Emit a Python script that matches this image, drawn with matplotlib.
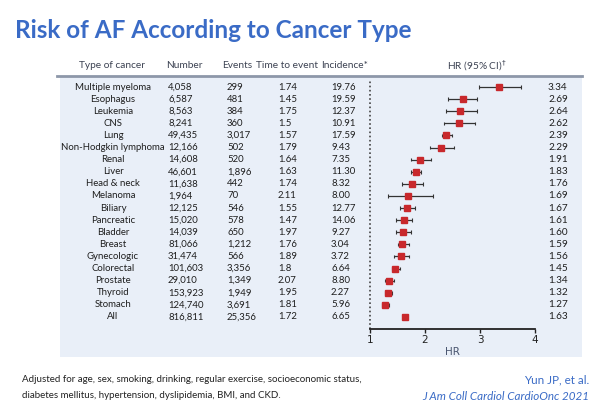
#!/usr/bin/env python

import numpy as np
import matplotlib.pyplot as plt
import matplotlib.transforms as mtrans
from matplotlib.patches import Rectangle

# table data
cancers = ['Multiple myeloma', 'Esophagus', 'Leukemia', 'CNS', 'Lung',
           'Non-Hodgkin lymphoma', 'Renal', 'Liver', 'Head & neck', 'Melanoma',
           'Biliary', 'Pancreatic', 'Bladder', 'Breast', 'Gynecologic',
           'Colorectal', 'Prostate', 'Thyroid', 'Stomach', 'All']
number = ['4,058', '6,587', '8,563', '8,241', '49,435', '12,166', '14,608',
          '46,601', '11,638', '1,964', '12,125', '15,020', '14,039', '81,066',
          '31,474', '101,603', '29,010', '153,923', '124,740', '816,811']
events = ['299', '481', '384', '360', '3,017', '502', '520', '1,896', '442',
          '70', '546', '578', '650', '1,212', '566', '3,356', '1,349', '1,949',
          '3,691', '25,356']
time_to_event = ['1.74', '1.45', '1.75', '1.5', '1.57', '1.79', '1.64', '1.63',
                 '1.74', '2.11', '1.55', '1.47', '1.97', '1.76', '1.89', '1.8',
                 '2.07', '1.95', '1.81', '1.72']
incidence = ['19.76', '19.59', '12.37', '10.91', '17.59', '9.43', '7.35',
             '11.30', '8.32', '8.00', '12.77', '14.06', '9.27', '3.04', '3.72',
             '6.64', '8.80', '2.27', '5.96', '6.65']

# hazard ratios and 95% CI
hr = np.array([3.34, 2.69, 2.64, 2.62, 2.39, 2.29, 1.91, 1.83, 1.76, 1.69,
               1.67, 1.61, 1.60, 1.59, 1.56, 1.45, 1.34, 1.32, 1.27, 1.63])
ci_lo = np.array([2.98, 2.41, 2.38, 2.35, 2.31, 2.09, 1.75, 1.75, 1.59, 1.32,
                  1.54, 1.48, 1.48, 1.51, 1.44, 1.40, 1.27, 1.27, 1.21, 1.61])
ci_hi = np.array([3.75, 2.95, 2.94, 2.91, 2.49, 2.52, 2.10, 1.93, 1.96, 2.14,
                  1.82, 1.76, 1.75, 1.70, 1.71, 1.54, 1.43, 1.40, 1.34, 1.65])

W, H = 600, 405
blue = '#3a6bc6'
head_col = '#3c4252'
txt_col = '#1e1e1e'
tfont = 'Lato'

fig = plt.figure(figsize=(6, 4.05), dpi=100)
fig.patch.set_facecolor('white')

def fx(px):
    return px / W

def fy(py):
    return 1 - py / H

# light blue panel
fig.patches.append(Rectangle((fx(60), fy(357)), fx(582) - fx(60), fy(76) - fy(357),
                             transform=fig.transFigure, facecolor='#e9eff8',
                             edgecolor='none', zorder=-10))
fig.add_artist(plt.Line2D([fx(57), fx(582)], [fy(76), fy(76)],
                          transform=fig.transFigure, color='#8d97a9', lw=2, zorder=-5))

# forest plot axes: rows 0..19, row 0 at y=87 px, row 19 at y=317 px
n = len(cancers)
step = (317 - 87) / (n - 1)
top_px, bot_px = 76, 329
ax = fig.add_axes([fx(370), fy(bot_px), fx(535) - fx(370), fy(top_px) - fy(bot_px)])
ax.set_facecolor('none')
ax.set_zorder(2)
ax.set_xlim(1, 4)
ax.set_ylim(n - 1 + (bot_px - 317) / step, -(87 - top_px) / step)
rows = np.arange(n)

ax.hlines(rows, ci_lo, ci_hi, color='#333333', lw=0.9, zorder=2)
ax.vlines(ci_lo, rows - 0.15, rows + 0.15, color='#333333', lw=0.8, zorder=2)
ax.vlines(ci_hi, rows - 0.15, rows + 0.15, color='#333333', lw=0.8, zorder=2)
ax.plot(hr, rows, 's', color='#c8282c', ms=4, zorder=3)
ax.axvline(1, ymin=0, ymax=0.98, color='#444444', ls=(0, (1, 1.5)), lw=1.2, clip_on=False)

for s in ['top', 'right', 'left']:
    ax.spines[s].set_visible(False)
ax.spines['bottom'].set_linewidth(1.3)
ax.spines['bottom'].set_color('#222222')
ax.set_yticks([])
ax.set_xticks([1, 2, 3, 4])
ax.tick_params(axis='x', length=3, width=1, pad=1, labelsize=7.5, colors='#222222')
ax.set_xlabel('HR', fontsize=7.5, color='#4a5670', labelpad=2)

# table text, x in figure pixels, y in row units
tr = mtrans.blended_transform_factory(fig.transFigure, ax.transData)
hy = -(87 - 66) / step
fs = 6.9
hfs = 7.3
ax.text(fx(112), hy, 'Type of cancer', transform=tr, ha='center', va='center',
        fontsize=hfs, color=head_col, family=tfont)
ax.text(fx(166), hy, 'Number', transform=tr, ha='left', va='center',
        fontsize=hfs, color=head_col, family=tfont)
ax.text(fx(222), hy, 'Events', transform=tr, ha='left', va='center',
        fontsize=hfs, color=head_col, family=tfont)
ax.text(fx(256), hy, 'Time to event', transform=tr, ha='left', va='center',
        fontsize=hfs, color=head_col, family=tfont)
ax.text(fx(321), hy, 'Incidence*', transform=tr, ha='left', va='center',
        fontsize=hfs, color=head_col, family=tfont)
ax.text(fx(477), hy, 'HR (95% CI)$^{\\dagger}$', transform=tr, ha='center', va='center',
        fontsize=hfs, color=head_col, family=tfont)

for i in range(n):
    ax.text(fx(113), i, cancers[i], transform=tr, ha='center', va='center',
            fontsize=fs, color=txt_col, family=tfont)
    ax.text(fx(168), i, number[i], transform=tr, ha='left', va='center',
            fontsize=fs, color=txt_col, family=tfont)
    ax.text(fx(227), i, events[i], transform=tr, ha='left', va='center',
            fontsize=fs, color=txt_col, family=tfont)
    ax.text(fx(278), i, time_to_event[i], transform=tr, ha='left', va='center',
            fontsize=fs, color=txt_col, family=tfont)
    ax.text(fx(331), i, incidence[i], transform=tr, ha='left', va='center',
            fontsize=fs, color=txt_col, family=tfont)
    ax.text(fx(548), i, '%.2f' % hr[i], transform=tr, ha='left', va='center',
            fontsize=fs + 0.3, color=txt_col, family=tfont)

# title and footnotes
fig.text(fx(15), fy(31), 'Risk of AF According to Cancer Type', ha='left', va='center',
         fontsize=17.5, fontweight='bold', color=blue, family='Lato')
fig.text(fx(22), fy(380), 'Adjusted for age, sex, smoking, drinking, regular exercise, socioeconomic status,',
         ha='left', va='center', fontsize=7.05, color='#222222', family='Lato')
fig.text(fx(22), fy(395), 'diabetes mellitus, hypertension, dyslipidemia, BMI, and CKD.',
         ha='left', va='center', fontsize=7.05, color='#222222', family='Lato')
fig.text(fx(589), fy(380), 'Yun JP, et al.', ha='right', va='center',
         fontsize=8.4, color=blue, family='Lato')
fig.text(fx(589), fy(396), 'J Am Coll Cardiol CardioOnc 2021', ha='right', va='center',
         fontsize=8.4, color=blue, family='Lato', style='italic')

fig.savefig('out.png', dpi=100)
